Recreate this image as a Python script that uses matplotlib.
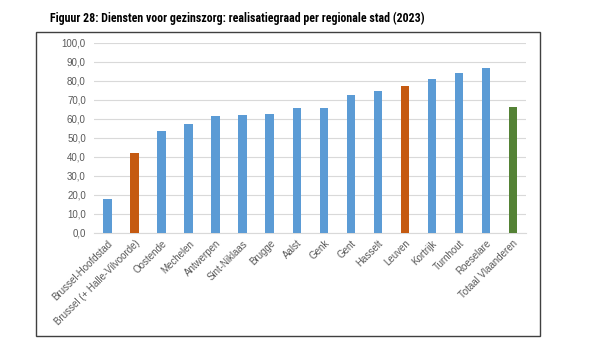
import matplotlib
matplotlib.use("Agg")
import matplotlib.pyplot as plt
from matplotlib.patches import Rectangle
from matplotlib import font_manager
import numpy as np

steden = ["Brussel-Hoofdstad", "Brussel (+ Halle-Vilvoorde)", "Oostende", "Mechelen",
          "Antwerpen", "Sint-Niklaas", "Brugge", "Aalst", "Genk", "Gent", "Hasselt",
          "Leuven", "Kortrijk", "Turnhout", "Roeselare", "Totaal Vlaanderen"]
realisatiegraad = [17.9, 41.8, 53.3, 57.0, 61.2, 62.1, 62.6, 65.8, 65.8, 72.3, 74.6,
                   77.4, 81.1, 83.9, 86.5, 66.0]
kleur_groep = ["blauw", "oranje", "blauw", "blauw", "blauw", "blauw", "blauw", "blauw",
               "blauw", "blauw", "blauw", "oranje", "blauw", "blauw", "blauw", "groen"]
yticks = np.arange(0, 101, 10)

kleuren = {"blauw": "#5B9BD5", "oranje": "#C55A11", "groen": "#548235"}

plt.rcParams['font.family'] = ['Liberation Sans', 'DejaVu Sans']

# smalle letter voor de titel als die er is
namen = {f.name for f in font_manager.fontManager.ttflist}
smal = [n for n in ["Liberation Sans Narrow", "Roboto Condensed", "Open Sans Condensed",
                    "DejaVu Sans Condensed"] if n in namen]

fig = plt.figure(figsize=(6.05, 3.64), dpi=100)
ax = fig.add_axes([0.1557, 0.3607, 0.7145, 0.522])

x = np.arange(len(steden))
ax.bar(x, realisatiegraad, width=0.32, color=[kleuren[k] for k in kleur_groep], zorder=3)

ax.set_xlim(-0.5, len(steden) - 0.5)
ax.set_ylim(0, 100)
ax.set_yticks(yticks)
ax.set_yticklabels([f"{v:.1f}".replace(".", ",") for v in yticks])
ax.set_xticks(x)
ax.set_xticklabels(steden, rotation=45, ha="right", rotation_mode="anchor")
ax.tick_params(axis="both", length=0, labelsize=7, colors="#595959")
ax.tick_params(axis="x", pad=4)
ax.tick_params(axis="y", pad=6)
ax.yaxis.grid(True, color="#D9D9D9", linewidth=0.8, zorder=0)
for s in ["top", "right", "left"]:
    ax.spines[s].set_visible(False)
ax.spines["bottom"].set_color("#D9D9D9")

# kader rond de grafiek
fig.patches.append(Rectangle((0.0595, 0.077), 0.833, 0.835, transform=fig.transFigure,
                             fill=False, edgecolor="#404040", linewidth=1.0))

titel = "Figuur 28: Diensten voor gezinszorg: realisatiegraad per regionale stad (2023)"
if smal:
    fig.text(0.083, 0.95, titel, fontsize=8.6, fontweight="bold", va="center", ha="left",
             family=[smal[0], "DejaVu Sans"], fontstretch="condensed")
else:
    fig.text(0.083, 0.95, titel, fontsize=7.0, fontweight="bold", va="center", ha="left")

fig.savefig("out.png", dpi=100)
